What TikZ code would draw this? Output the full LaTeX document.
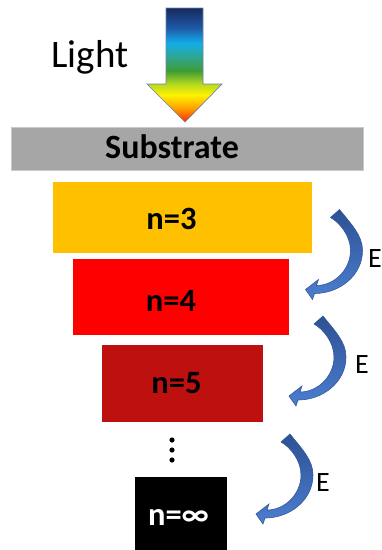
\documentclass[tikz,border=0pt]{standalone}
\usepackage{fontspec}
\setmainfont{Carlito}

% colours
\definecolor{substrategray}{HTML}{A6A6A6}
\definecolor{substrateedge}{HTML}{C9C9C9}
\definecolor{nthree}{HTML}{FFC000}
\definecolor{nfour}{HTML}{FF0000}
\definecolor{nfive}{HTML}{BF1010}
\definecolor{arrTop}{HTML}{2D5193}
\definecolor{arrBot}{HTML}{4C7ED0}
\definecolor{arrEdge}{HTML}{34589A}
\definecolor{spN}{HTML}{18295E}
\definecolor{spB}{HTML}{1E5AA8}
\definecolor{spC}{HTML}{12AEE8}
\definecolor{spT}{HTML}{30A58A}
\definecolor{spG}{HTML}{3D9C35}
\definecolor{spL}{HTML}{B5D920}
\definecolor{spY}{HTML}{FFF200}
\definecolor{spO}{HTML}{FFA000}
\definecolor{spR}{HTML}{FF2A00}
\definecolor{lightedge}{HTML}{6F82AA}

% spectrum for the light arrow (bottom = red tip, top = navy tail)
\pgfdeclareverticalshading{spectrum}{100bp}{%
  color(0bp)=(spR); color(25bp)=(spR); color(31.1bp)=(spO);
  color(36.8bp)=(spY); color(41.7bp)=(spL); color(47.4bp)=(spG);
  color(53.1bp)=(spT); color(59.6bp)=(spC); color(66.2bp)=(spB);
  color(75bp)=(spN); color(100bp)=(spN)}

\tikzset{
  level/.style={rectangle, inner sep=0pt},
  leveltext/.style={inner sep=0pt, anchor=base, font=\fontsize{32.5}{38}\selectfont\bfseries},
  elabel/.style={inner sep=0pt, anchor=base west, font=\fontsize{28}{33}\selectfont},
  % curved energy-transfer arrow, origin at the centre of its tail
  earrow/.pic={
    \shade[top color=arrTop, bottom color=arrBot, draw=arrEdge, line width=0.6pt]
      (5,-4) .. controls (17,11) and (28,22) .. (28,37)
      .. controls (28,62) and (5,80) .. (-20,80)
      -- (-22,86) -- (-29,76) -- (-16,66) -- (-18,72)
      .. controls (0,72) and (16,56) .. (16,37)
      .. controls (16,22) and (5,9) .. (-4,4) -- cycle;
  }
}

\begin{document}
\begin{tikzpicture}[x=1pt, y=-1pt]
\useasboundingbox (0,0) rectangle (381,550);
\clip (0,0) rectangle (381,550);

% incoming light
\shade[shading=spectrum, draw=lightedge, line width=0.7pt]
  (166,8) -- (203,8) -- (203,84) -- (222,84) -- (185,122) -- (147,84) -- (166,84) -- cycle;
\node[inner sep=0pt, anchor=base, font=\fontsize{39}{45}\selectfont] (light) at (90,67) {Light};

% layers
\node[level, fill=substrategray, draw=substrateedge, line width=0.6pt,
      minimum width=352, minimum height=43] (sub) at (187,148.5) {};
\node[level, fill=nthree, minimum width=259, minimum height=71] (n3) at (182.5,217.5) {};
\node[level, fill=nfour, minimum width=216, minimum height=76] (n4) at (181,297) {};
\node[level, fill=nfive, minimum width=161, minimum height=77] (n5) at (182.5,383.5) {};
\node[level, fill=black, minimum width=92, minimum height=76] (ninf) at (181,515) {};

\node[leveltext, font=\fontsize{34}{40}\selectfont\bfseries] (subt) at (172,158) {Substrate};
\node[leveltext] (n3t) at (171.5,229) {n=3};
\node[leveltext] (n4t) at (171,311.5) {n=4};
\node[leveltext] (n5t) at (176.5,393) {n=5};
\node[leveltext, text=white] (ninft) at (178.5,525) {n=∞};

% vertical ellipsis
\fill (172,440) circle (2.6) (172,450) circle (2.6) (172,460) circle (2.6);

% energy transfer arrows
\pic at (334.5,213.5) {earrow};
\pic at (318,320) {earrow};
\pic at (285,438) {earrow};

\node[elabel] (e1) at (368,267) {E};
\node[elabel] (e2) at (355,373) {E};
\node[elabel] (e3) at (316,491) {E};
\end{tikzpicture}
\end{document}
